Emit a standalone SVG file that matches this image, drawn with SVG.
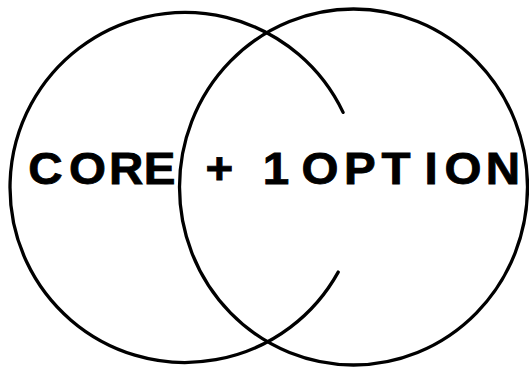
<svg xmlns="http://www.w3.org/2000/svg" width="529" height="368" viewBox="0 0 529 368">
  <style>
    .ring { fill: none; stroke: #000; stroke-width: 3.3; stroke-linecap: round; }
    .lbl { font-family: "Liberation Sans", Arial, sans-serif; font-weight: bold; font-size: 44px; fill: #000; stroke: #000; stroke-width: 0.8; text-anchor: middle; }
  </style>
  <rect width="529" height="368" fill="#fff"/>
  <g id="core">
    <path class="ring" d="M343.1,112.4 A175,175 0 1 0 338.2,272.1"/>
    <text class="lbl" transform="scale(1.08 1)" x="42.1 81 116.7 147.7" y="184">CORE</text>
  </g>
  <g id="option">
    <ellipse class="ring" cx="353.5" cy="187" rx="174" ry="178"/>
    <text class="lbl" transform="scale(1.08 1)" x="203.2 255.6 296.3 333.3 366.7 399.1 428.7 465.7" y="184">+1OPTION</text>
  </g>
  <g id="connectors"/>
</svg>
